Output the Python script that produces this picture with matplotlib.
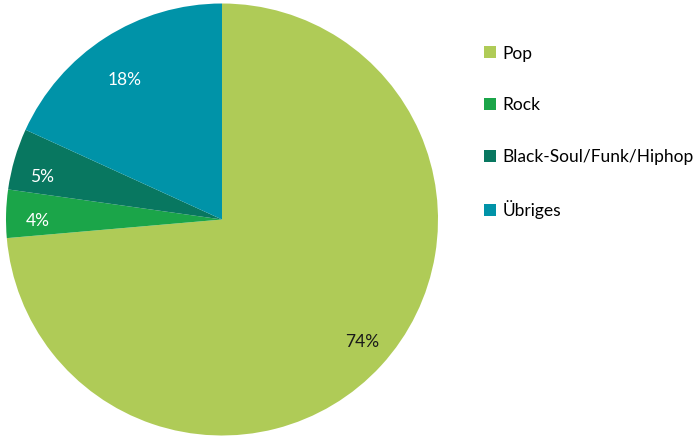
import matplotlib.pyplot as plt
import numpy as np

labels = ["Pop", "Rock", "Black-Soul/Funk/Hiphop", "Übriges"]
shares = [73.7, 3.6, 4.6, 18.2]        # unrounded shares (wedge sizes)
shares_shown = [74, 4, 5, 18]          # rounded values printed on the chart
colors = ["#AFCB57", "#1BA549", "#087760", "#0093A8"]
pct_colors = ["#1a1a1a", "white", "white", "white"]

plt.rcParams['font.family'] = ['Lato', 'DejaVu Sans']

fig = plt.figure(figsize=(6.95, 4.36), dpi=100)
ax = fig.add_axes([6/695, 1-436/436, 432/695, 433/436])

wedges, texts, autotexts = ax.pie(shares, colors=colors, startangle=90, counterclock=False,
                                  autopct='%d%%', pctdistance=0.85,
                                  wedgeprops=dict(linewidth=0),
                                  textprops=dict(fontsize=12.5))
# print the published values and nudge labels to where the original has them
for t, s, c, r, da in zip(autotexts, shares_shown, pct_colors,
                          [0.862, 0.852, 0.858, 0.79], [1.2, 2.1, 2.9, 2.2]):
    t.set_text("%d%%" % s)
    x, y = t.get_position()
    ang = np.arctan2(y, x) + np.radians(da)
    t.set_position((r*np.cos(ang), r*np.sin(ang)))
    t.set_color(c)
ax.set_xlim(-1.0, 1.0)
ax.set_ylim(-1.0, 1.0)
ax.set_aspect('equal')

fig.legend(wedges, labels, loc='upper left', bbox_to_anchor=(484/695, 1-45.5/436),
           frameon=False, fontsize=12.5, handlelength=0.7, handleheight=0.7,
           handletextpad=0.35, labelspacing=2.05, borderaxespad=0, borderpad=0)

fig.savefig("out.png", dpi=100)
